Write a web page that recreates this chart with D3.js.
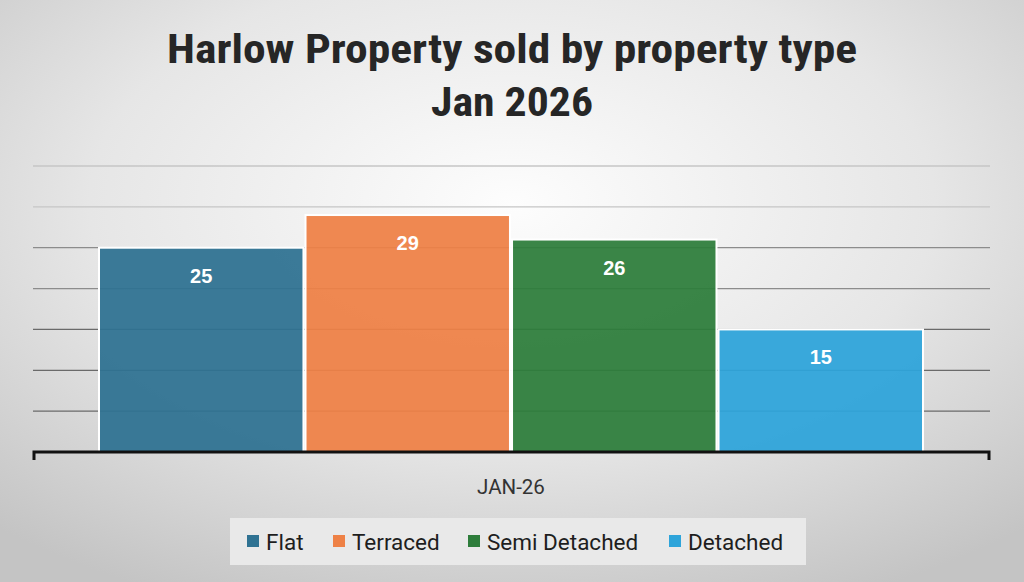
<!DOCTYPE html>
<html>
<head>
<meta charset="utf-8">
<script src="https://cdnjs.cloudflare.com/ajax/libs/d3/7.8.5/d3.min.js"></script>
<style>
  html, body { margin: 0; padding: 0; overflow: hidden; }
  svg { display: block; }
</style>
</head>
<body>
<div id="chart"></div>
<script>
var titleLines = ["Harlow Property sold by property type", "Jan 2026"]
var period = "JAN-26"
var types = ["Flat", "Terraced", "Semi Detached", "Detached"]
var sold = [25, 29, 26, 15]
var gridTicks = [0, 5, 10, 15, 20, 25, 30, 35]

var colorDictionary = {
    "Flat": "#2f7292",
    "Terraced": "#ee8146",
    "Semi Detached": "#2e7d3b",
    "Detached": "#2ea4da"
}

var W = 1024, H = 582
var svg = d3.select("#chart").append("svg").attr("width", W).attr("height", H)

// background gradient
var grad = svg.append("defs").append("radialGradient")
    .attr("id", "bg").attr("cx", "50%").attr("cy", "35%").attr("r", "75%")
grad.append("stop").attr("offset", "0%").attr("stop-color", "#fdfdfd")
grad.append("stop").attr("offset", "55%").attr("stop-color", "#e6e6e6")
grad.append("stop").attr("offset", "100%").attr("stop-color", "#c4c4c4")
svg.append("rect").attr("width", W).attr("height", H).attr("fill", "url(#bg)")

// title (condensed bold, stretched to the reference width)
var titleWidths = [690, 162]
svg.selectAll("text.title").data(titleLines).enter().append("text")
    .attr("class", "title")
    .attr("x", 512)
    .attr("y", function(d, i){ return 63 + i * 53 })
    .attr("text-anchor", "middle")
    .attr("font-family", "'Roboto Condensed', 'Liberation Sans Narrow', Roboto, sans-serif")
    .attr("font-weight", "bold")
    .attr("font-size", 40)
    .attr("textLength", function(d, i){ return titleWidths[i] })
    .attr("lengthAdjust", "spacingAndGlyphs")
    .attr("fill", "#262626")
    .text(function(d){ return d })

var plotLeft = 33, plotRight = 990
var y = d3.scaleLinear().domain([0, 35]).range([452, 166])
var x = d3.scaleBand().domain(types).range([99, 923]).paddingInner(0.01)

// gridlines
svg.append("g").selectAll("line").data(gridTicks.slice(1)).enter().append("line")
    .attr("x1", plotLeft).attr("x2", plotRight)
    .attr("y1", function(d){ return y(d) }).attr("y2", function(d){ return y(d) })
    .attr("stroke", function(d){ return d <= 15 ? "#6a6a6a" : (d <= 25 ? "#8c8c8c" : "#c6c6c6") })
    .attr("stroke-width", 1.3)

// bars
svg.append("g").selectAll("rect").data(types).enter().append("rect")
    .attr("x", function(d){ return x(d) })
    .attr("y", function(d, i){ return y(sold[i]) })
    .attr("width", x.bandwidth())
    .attr("height", function(d, i){ return y(0) - y(sold[i]) })
    .attr("fill", function(d){ return colorDictionary[d] })
    .attr("fill-opacity", 0.94)
    .attr("stroke", "#ffffff")
    .attr("stroke-width", 2)

// value labels
svg.append("g").selectAll("text").data(types).enter().append("text")
    .attr("x", function(d){ return x(d) + x.bandwidth() / 2 })
    .attr("y", function(d, i){ return y(sold[i]) + 35 })
    .attr("text-anchor", "middle")
    .attr("font-family", "'Liberation Sans', Arial, sans-serif")
    .attr("font-weight", "bold")
    .attr("font-size", 20)
    .attr("fill", "#ffffff")
    .text(function(d, i){ return sold[i] })

// baseline with end ticks
svg.append("path")
    .attr("d", "M" + (plotLeft + 1) + "," + (y(0) + 8) + "V" + y(0) + "H" + (plotRight - 1) + "V" + (y(0) + 8))
    .attr("fill", "none")
    .attr("stroke", "#111")
    .attr("stroke-width", 3)

svg.append("text")
    .attr("x", 511)
    .attr("y", 494)
    .attr("text-anchor", "middle")
    .attr("font-family", "Roboto, 'Liberation Sans', sans-serif")
    .attr("font-size", 20.5)
    .attr("fill", "#333")
    .text(period)

// legend
var legend = svg.append("g")
legend.append("rect").attr("x", 230).attr("y", 518).attr("width", 576).attr("height", 47)
    .attr("fill", "#e9e9e9")
var legendX = [247, 333, 468, 669]
var items = legend.selectAll("g").data(types).enter().append("g")
    .attr("transform", function(d, i){ return "translate(" + legendX[i] + ",541)" })
items.append("rect").attr("x", 0).attr("y", -6).attr("width", 12).attr("height", 12)
    .attr("fill", function(d){ return colorDictionary[d] })
items.append("text").attr("x", 19).attr("y", 8.5)
    .attr("font-family", "Roboto, 'Liberation Sans', sans-serif")
    .attr("font-size", 22.5)
    .attr("fill", "#1e1e1e")
    .text(function(d){ return d })
</script>
</body>
</html>
